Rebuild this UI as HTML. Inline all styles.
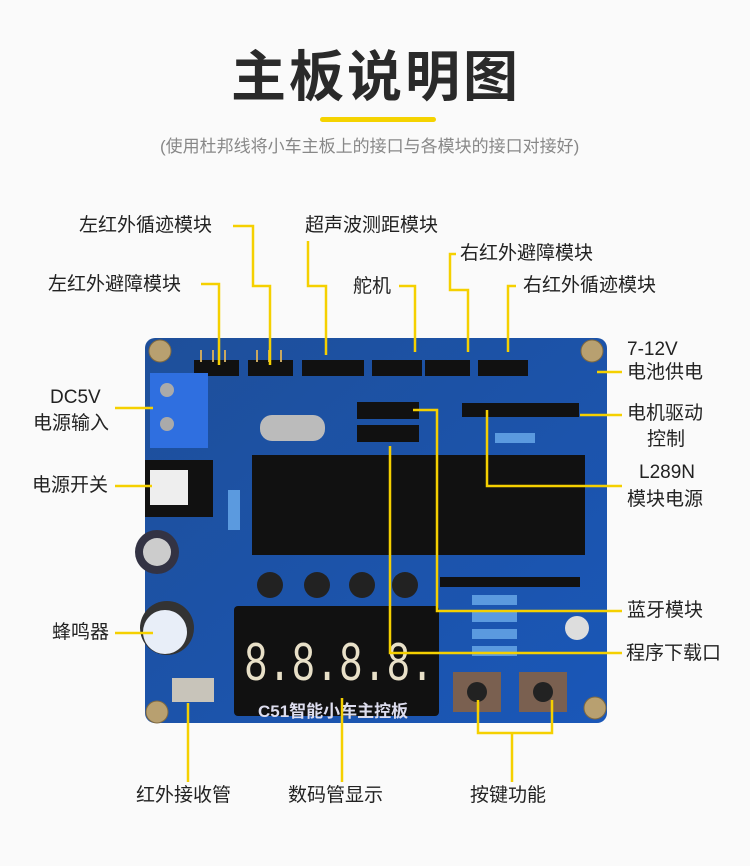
<!DOCTYPE html><html><head><meta charset="utf-8"><style>
body{margin:0;width:750px;height:866px;background:#fafafa;overflow:hidden;position:relative;font-family:"Liberation Sans","Noto Sans CJK SC",sans-serif;}
.t{position:absolute;color:#222;font-size:19px;white-space:nowrap;line-height:1}
</style></head><body>
<div class="t" style="left:231px;top:50px;font-size:55px;font-weight:bold;color:#2a2a2a;letter-spacing:3px">主板说明图</div>
<div style="position:absolute;left:320px;top:117px;width:116px;height:5px;border-radius:3px;background:#f5d300"></div>
<div class="t" style="left:160px;top:138px;font-size:17px;color:#888">(使用杜邦线将小车主板上的接口与各模块的接口对接好)</div>

<svg width="750" height="866" style="position:absolute;left:0;top:0">
<defs><linearGradient id="b" x1="0" y1="0" x2="1" y2="1"><stop offset="0" stop-color="#1e4f9a"/><stop offset="1" stop-color="#1a57b8"/></linearGradient></defs>
<rect x="145" y="338" width="462" height="385" rx="10" fill="url(#b)"/>
<g fill="#b8a070" stroke="#806a40"><circle cx="160" cy="351" r="11"/><circle cx="592" cy="351" r="11"/><circle cx="157" cy="712" r="11"/><circle cx="595" cy="708" r="11"/></g>
<g fill="#111"><rect x="194" y="360" width="45" height="16"/><rect x="248" y="360" width="45" height="16"/><rect x="302" y="360" width="62" height="16"/><rect x="372" y="360" width="50" height="16"/><rect x="425" y="360" width="45" height="16"/><rect x="478" y="360" width="50" height="16"/>
<rect x="357" y="402" width="62" height="17"/><rect x="357" y="425" width="62" height="17"/><rect x="462" y="403" width="55" height="14"/><rect x="517" y="403" width="62" height="14"/>
<rect x="252" y="455" width="333" height="100"/><rect x="145" y="460" width="68" height="57"/><rect x="234" y="606" width="205" height="110" rx="4"/><rect x="440" y="577" width="140" height="10"/></g>
<g fill="#c9a860"><rect x="200" y="350" width="2" height="12"/><rect x="212" y="350" width="2" height="12"/><rect x="224" y="350" width="2" height="12"/><rect x="256" y="350" width="2" height="12"/><rect x="268" y="350" width="2" height="12"/><rect x="280" y="350" width="2" height="12"/></g>
<rect x="150" y="373" width="58" height="75" fill="#2f6fe0"/><circle cx="167" cy="390" r="7" fill="#aaa"/><circle cx="167" cy="424" r="7" fill="#aaa"/>
<rect x="150" y="470" width="38" height="35" fill="#eee"/>
<circle cx="157" cy="552" r="22" fill="#334" /><circle cx="157" cy="552" r="14" fill="#ccc"/>
<circle cx="167" cy="628" r="27" fill="#333"/><circle cx="165" cy="632" r="22" fill="#e8eef8"/>
<rect x="172" y="678" width="42" height="24" fill="#c8c4ba"/>
<rect x="260" y="415" width="65" height="26" rx="12" fill="#bbb"/>
<g fill="#222"><circle cx="270" cy="585" r="13"/><circle cx="317" cy="585" r="13"/><circle cx="362" cy="585" r="13"/><circle cx="405" cy="585" r="13"/></g>
<g fill="#5b9adf"><rect x="472" y="595" width="45" height="10"/><rect x="472" y="612" width="45" height="10"/><rect x="472" y="629" width="45" height="10"/><rect x="472" y="646" width="45" height="10"/><rect x="228" y="490" width="12" height="40"/><rect x="495" y="433" width="40" height="10"/></g>
<rect x="453" y="672" width="48" height="40" fill="#7a6050"/><circle cx="477" cy="692" r="10" fill="#222"/>
<rect x="519" y="672" width="48" height="40" fill="#7a6050"/><circle cx="543" cy="692" r="10" fill="#222"/>
<circle cx="577" cy="628" r="12" fill="#ddd"/>
<text x="244" y="680" fill="#e8e0c8" font-size="56" font-family="Liberation Mono,monospace" textLength="190" lengthAdjust="spacingAndGlyphs">8.8.8.8.</text>
<text x="258" y="717" fill="#dde" font-size="17" font-weight="bold" font-family="Liberation Sans,Noto Sans CJK SC,sans-serif">C51智能小车主控板</text>
<g stroke="#f5d000" stroke-width="2.5" fill="none">
<polyline points="233,226 253,226 253,286 270,286 270,365"/>
<polyline points="201,284 219,284 219,365"/>
<polyline points="308,241 308,286 326,286 326,355"/>
<polyline points="399,286 415,286 415,352"/>
<polyline points="456,254 450,254 450,290 468,290 468,352"/>
<polyline points="516,286 508,286 508,352"/>
<line x1="597" y1="372" x2="622" y2="372"/>
<line x1="580" y1="415" x2="622" y2="415"/>
<polyline points="487,410 487,486 622,486"/>
<polyline points="413,410 437,410 437,611 622,611"/>
<polyline points="390,446 390,653 622,653"/>
<line x1="115" y1="408" x2="153" y2="408"/>
<line x1="115" y1="486" x2="152" y2="486"/>
<line x1="115" y1="633" x2="153" y2="633"/>
<line x1="188" y1="703" x2="188" y2="782"/>
<line x1="342" y1="698" x2="342" y2="782"/>
<polyline points="478,700 478,733 552,733 552,700"/>
<line x1="512" y1="733" x2="512" y2="782"/>
</g></svg>

<div class="t" style="left:79px;top:216px">左红外循迹模块</div>
<div class="t" style="left:48px;top:275px">左红外避障模块</div>
<div class="t" style="left:305px;top:216px">超声波测距模块</div>
<div class="t" style="left:353px;top:277px">舵机</div>
<div class="t" style="left:460px;top:244px">右红外避障模块</div>
<div class="t" style="left:523px;top:276px">右红外循迹模块</div>
<div class="t" style="left:627px;top:340px">7-12V</div>
<div class="t" style="left:627px;top:363px">电池供电</div>
<div class="t" style="left:627px;top:404px">电机驱动</div>
<div class="t" style="left:647px;top:430px">控制</div>
<div class="t" style="left:639px;top:463px">L289N</div>
<div class="t" style="left:627px;top:490px">模块电源</div>
<div class="t" style="left:627px;top:601px">蓝牙模块</div>
<div class="t" style="left:626px;top:644px">程序下载口</div>
<div class="t" style="left:50px;top:388px">DC5V</div>
<div class="t" style="left:33px;top:414px">电源输入</div>
<div class="t" style="left:32px;top:476px">电源开关</div>
<div class="t" style="left:52px;top:623px">蜂鸣器</div>
<div class="t" style="left:136px;top:786px">红外接收管</div>
<div class="t" style="left:288px;top:786px">数码管显示</div>
<div class="t" style="left:470px;top:786px">按键功能</div>
</body></html>
